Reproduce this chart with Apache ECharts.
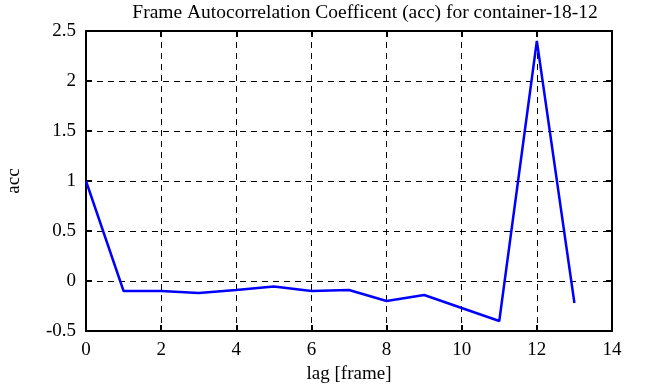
<!DOCTYPE html>
<html><head><meta charset="utf-8">
<script src="https://cdn.jsdelivr.net/npm/echarts@6/dist/echarts.min.js"></script>
<style>html,body{margin:0;padding:0;background:#fff}#c{width:651px;height:387px}</style>
</head><body><div id="c"></div>
<script>
const lags = [0,1,2,3,4,5,6,7,8,9,10,11,12,13];
const acc = [1.0,-0.1,-0.1,-0.12,-0.09,-0.055,-0.1,-0.09,-0.2,-0.14,-0.27,-0.4,2.4,-0.22];
const xTicks = [0,2,4,6,8,10,12,14];
const yTicks = [-0.5,0,0.5,1,1.5,2,2.5];
const titleText = 'Frame Autocorrelation Coefficent (acc) for container-18-12';
const font = 'Liberation Serif';
const fs = 19;
const chart = echarts.init(document.getElementById('c'), null, {renderer:'canvas'});
chart.setOption({
  animation:false,
  backgroundColor:'#fff',
  title:{text:titleText,left:360,top:-2,textAlign:'center',textStyle:{fontFamily:font,fontWeight:'normal',fontSize:19.5,color:'#000'}},
  grid:{left:86,right:39,top:31,bottom:56,show:false,containLabel:false,outerBoundsMode:'none'},
  xAxis:[{
    type:'value',min:0,max:14,interval:2,position:'bottom',
    name:'lag [frame]',nameLocation:'middle',nameGap:34,
    nameTextStyle:{fontFamily:font,fontSize:fs,color:'#000'},
    axisLine:{show:true,onZero:false,lineStyle:{color:'#000',width:2}},
    axisTick:{show:true,inside:true,length:6,lineStyle:{color:'#000',width:2}},
    axisLabel:{fontFamily:font,fontSize:fs,color:'#000',margin:10,formatter:v=>String(v)},
    splitLine:{show:true,lineStyle:{color:'#000',type:[6,5],width:1}}
  },{
    type:'value',min:0,max:14,interval:2,position:'top',
    axisLine:{show:true,onZero:false,lineStyle:{color:'#000',width:2}},
    axisTick:{show:true,inside:true,length:6,lineStyle:{color:'#000',width:2}},
    axisLabel:{show:false},splitLine:{show:false}
  }],
  yAxis:[{
    type:'value',min:-0.5,max:2.5,interval:0.5,position:'left',
    name:'acc',nameLocation:'middle',nameGap:62,nameRotate:90,
    nameTextStyle:{fontFamily:font,fontSize:fs,color:'#000'},
    axisLine:{show:true,onZero:false,lineStyle:{color:'#000',width:2}},
    axisTick:{show:true,inside:true,length:6,lineStyle:{color:'#000',width:2}},
    axisLabel:{fontFamily:font,fontSize:fs,color:'#000',margin:10,formatter:v=>String(v)},
    splitLine:{show:true,lineStyle:{color:'#000',type:[6,5],width:1}}
  },{
    type:'value',min:-0.5,max:2.5,interval:0.5,position:'right',
    axisLine:{show:true,onZero:false,lineStyle:{color:'#000',width:2}},
    axisTick:{show:true,inside:true,length:6,lineStyle:{color:'#000',width:2}},
    axisLabel:{show:false},splitLine:{show:false}
  }],
  series:[{
    type:'line',xAxisIndex:0,yAxisIndex:0,
    data:lags.map((l,i)=>[l,acc[i]]),
    showSymbol:false,symbol:'none',
    lineStyle:{color:'#0000ff',width:2.5},
    z:5
  }]
});
</script></body></html>
